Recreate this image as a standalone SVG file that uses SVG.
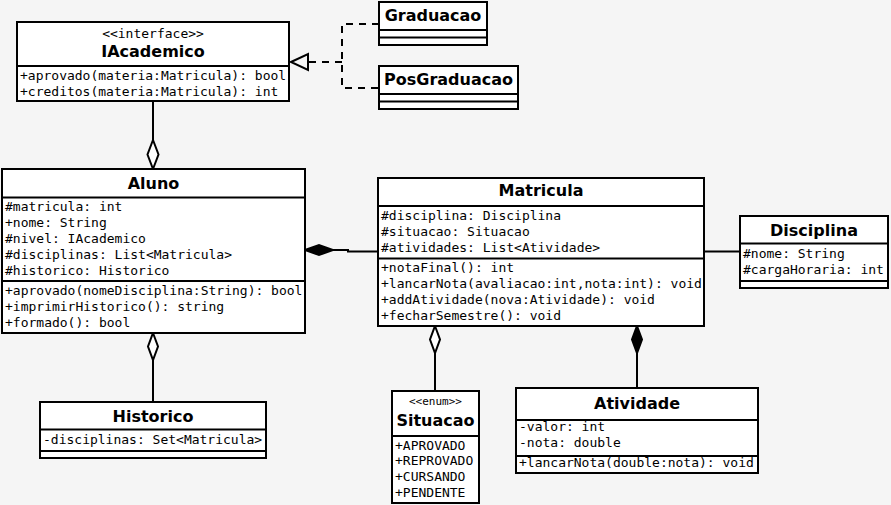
<svg xmlns="http://www.w3.org/2000/svg" width="891" height="505" viewBox="0 0 891 505">
<style>
.box{fill:#fff;stroke:#000;stroke-width:2}
.sep{stroke:#000;stroke-width:2;fill:none}
.t{font-family:"DejaVu Sans","Liberation Sans",sans-serif;font-weight:bold;font-size:16px;text-anchor:middle;fill:#000}
.m{font-family:"DejaVu Sans Mono","Liberation Mono",monospace;font-size:13px;fill:#000;white-space:pre}
.s{font-family:"DejaVu Sans Mono","Liberation Mono",monospace;font-size:11px;text-anchor:middle;fill:#000}
.ln{stroke:#000;stroke-width:2;fill:none}
.dash{stroke:#000;stroke-width:2;fill:none;stroke-dasharray:7 6}
</style>
<rect width="891" height="505" fill="#f5f5f5"/>
<g id="connectors">
<path class="ln" d="M153 101 V140"/>
<polygon points="153,140 158.5,154.5 153,169 147.5,154.5" fill="#fff" stroke="#000" stroke-width="2"/>
<polygon points="153,333 158,346.5 153,360 148,346.5" fill="#fff" stroke="#000" stroke-width="2"/>
<path class="ln" d="M153 360 V402"/>
<path class="dash" d="M379 24 H342 V88 H379"/>
<path class="dash" d="M342 62 H308"/>
<polygon points="291,62 308,54 308,70" fill="#f5f5f5" stroke="#000" stroke-width="2"/>
<polygon points="305,250 319,245 333,250 319,255" fill="#000" stroke="#000" stroke-width="2"/>
<path class="ln" d="M333 250 H348 V251.5 H378"/>
<path class="ln" d="M704 251.5 H740"/>
<polygon points="435,326 440,339.5 435,353 430,339.5" fill="#fff" stroke="#000" stroke-width="2"/>
<path class="ln" d="M435 353 V391"/>
<polygon points="637,326 642,339.5 637,353 632,339.5" fill="#000" stroke="#000" stroke-width="2"/>
<path class="ln" d="M637 353 V388"/>
</g>
<g id="IAcademico">
<rect class="box" x="17" y="22" width="272" height="79"/>
<path class="sep" d="M17 66 H289"/>
<text class="m" x="153" y="37.5" text-anchor="middle">&lt;&lt;interface&gt;&gt;</text>
<text class="t" x="153" y="56.5">IAcademico</text>
<text class="m" x="20" y="79.5">+aprovado(materia:Matricula): bool</text>
<text class="m" x="20" y="95.5">+creditos(materia:Matricula): int</text>
</g>
<g id="Graduacao">
<rect class="box" x="379" y="2" width="108" height="43"/>
<path class="sep" d="M379 30 H487 M379 37.5 H487"/>
<text class="t" x="433" y="21">Graduacao</text>
</g>
<g id="PosGraduacao">
<rect class="box" x="379" y="66" width="139" height="43"/>
<path class="sep" d="M379 94 H518 M379 101.5 H518"/>
<text class="t" x="448.5" y="85">PosGraduacao</text>
</g>
<g id="Aluno">
<rect class="box" x="2" y="169" width="303" height="164"/>
<path class="sep" d="M2 197.5 H305 M2 281 H305"/>
<text class="t" x="153.5" y="188.5">Aluno</text>
<text class="m" x="5" y="210.5">#matricula: int</text>
<text class="m" x="5" y="226.5">+nome: String</text>
<text class="m" x="5" y="242.5">#nivel: IAcademico</text>
<text class="m" x="5" y="258.5">#disciplinas: List&lt;Matricula&gt;</text>
<text class="m" x="5" y="274.5">#historico: Historico</text>
<text class="m" x="5" y="294.5">+aprovado(nomeDisciplina:String): bool</text>
<text class="m" x="5" y="310.5">+imprimirHistorico(): string</text>
<text class="m" x="5" y="326.5">+formado(): bool</text>
</g>
<g id="Matricula">
<rect class="box" x="378" y="178" width="326" height="148"/>
<path class="sep" d="M378 206 H704 M378 258.5 H704"/>
<text class="t" x="541" y="196">Matricula</text>
<text class="m" x="381" y="219.5">#disciplina: Disciplina</text>
<text class="m" x="381" y="235.5">#situacao: Situacao</text>
<text class="m" x="381" y="251.5">#atividades: List&lt;Atividade&gt;</text>
<text class="m" x="381" y="272">+notaFinal(): int</text>
<text class="m" x="381" y="288">+lancarNota(avaliacao:int,nota:int): void</text>
<text class="m" x="381" y="304">+addAtividade(nova:Atividade): void</text>
<text class="m" x="381" y="320">+fecharSemestre(): void</text>
</g>
<g id="Disciplina">
<rect class="box" x="740" y="216" width="148" height="72"/>
<path class="sep" d="M740 243.5 H888 M740 281 H888"/>
<text class="t" x="814" y="236">Disciplina</text>
<text class="m" x="743" y="258">#nome: String</text>
<text class="m" x="743" y="274">#cargaHoraria: int</text>
</g>
<g id="Historico">
<rect class="box" x="40" y="402" width="226" height="56"/>
<path class="sep" d="M40 429.5 H266 M40 451 H266"/>
<text class="t" x="153" y="421.5">Historico</text>
<text class="m" x="43" y="444">-disciplinas: Set&lt;Matricula&gt;</text>
</g>
<g id="Situacao">
<rect class="box" x="392" y="391" width="87" height="112"/>
<path class="sep" d="M392 436 H479"/>
<text class="s" x="435.5" y="405">&lt;&lt;enum&gt;&gt;</text>
<text class="t" x="435.5" y="426">Situacao</text>
<text class="m" x="395" y="449.5">+APROVADO</text>
<text class="m" x="395" y="465">+REPROVADO</text>
<text class="m" x="395" y="481">+CURSANDO</text>
<text class="m" x="395" y="497">+PENDENTE</text>
</g>
<g id="Atividade">
<rect class="box" x="516" y="388" width="242" height="85"/>
<path class="sep" d="M516 420 H758 M516 456 H758"/>
<text class="t" x="637" y="408.5">Atividade</text>
<text class="m" x="519" y="431">-valor: int</text>
<text class="m" x="519" y="447">-nota: double</text>
<text class="m" x="519" y="467">+lancarNota(double:nota): void</text>
</g>
</svg>
